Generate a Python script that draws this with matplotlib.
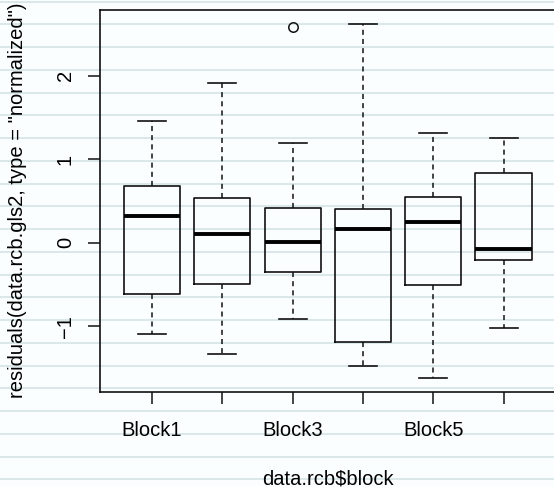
import matplotlib
matplotlib.use("Agg")
import matplotlib.pyplot as plt
from matplotlib.lines import Line2D

# per-block residual summaries
blocks = ["Block1", "Block2", "Block3", "Block4", "Block5", "Block6"]
whis_lo = [-1.10, -1.34, -0.92, -1.48, -1.62, -1.02]
q1 = [-0.62, -0.50, -0.35, -1.19, -0.51, -0.21]
medians = [0.32, 0.10, 0.01, 0.17, 0.25, -0.07]
q3 = [0.68, 0.53, 0.42, 0.41, 0.55, 0.83]
whis_hi = [1.46, 1.91, 1.19, 2.62, 1.32, 1.25]
outliers = [[], [], [2.59], [], [], []]

shown_labels = ["Block1", "", "Block3", "", "Block5", ""]
yticks = [-1, 0, 1, 2]

W, H = 554, 487
plt.rcParams['font.family'] = ['Liberation Sans', 'DejaVu Sans']

fig = plt.figure(figsize=(W / 100, H / 100), dpi=100)
fig.patch.set_facecolor("#fbfefe")

# lined-paper background
y = 1.6
while y < H:
    fig.add_artist(Line2D([0, 1], [1 - y / H, 1 - y / H], transform=fig.transFigure,
                          color="#dbe8e9", lw=1.4, zorder=0))
    y += 22.75

left, right, top, bottom = 100, 555.6, 10, 392
ax = fig.add_axes([left / W, 1 - bottom / H, (right - left) / W, (bottom - top) / H])
ax.set_facecolor("none")

stats = []
for i in range(len(blocks)):
    stats.append(dict(med=medians[i], q1=q1[i], q3=q3[i],
                      whislo=whis_lo[i], whishi=whis_hi[i], fliers=outliers[i]))

ax.bxp(stats, positions=range(1, len(blocks) + 1), widths=0.8, capwidths=0.4,
       boxprops=dict(color="#111111", lw=1.2),
       medianprops=dict(color="black", lw=2.8, solid_capstyle="butt"),
       whiskerprops=dict(color="#111111", lw=1.1, linestyle=(0, (3.3, 2.7))),
       capprops=dict(color="#111111", lw=1.2),
       flierprops=dict(marker="o", markerfacecolor="none", markeredgecolor="#111111",
                       markersize=6.8, markeredgewidth=1.1))

n = len(blocks)
ax.set_xlim(0.5 - 0.04 * n, n + 0.5 + 0.04 * n)
lo, hi = min(whis_lo), max(whis_hi)
ax.set_ylim(lo - 0.04 * (hi - lo), hi + 0.04 * (hi - lo))

ax.set_xticks(range(1, n + 1))
ax.set_xticklabels(shown_labels, fontsize=14.5)
ax.set_yticks(yticks)
ax.set_yticklabels(["\u22121" if v < 0 else str(v) for v in yticks], fontsize=14.5,
                   rotation=90, va="center")
ax.tick_params(axis="both", length=8.6, width=1.1, color="#111111")
ax.tick_params(axis="x", pad=12.5)
ax.tick_params(axis="y", pad=9.5)

for s in ax.spines.values():
    s.set_linewidth(1.2)
    s.set_color("#111111")

fig.text(328 / W, 1 - 484 / H, "data.rcb$block", ha="center", va="baseline",
         fontsize=14.5)
fig.text(18 / W, 1 - 200 / H, 'residuals(data.rcb.gls2, type = "normalized")',
         rotation=90, ha="center", va="center", fontsize=14.5)

fig.savefig("out.png", dpi=100, facecolor=fig.get_facecolor())
